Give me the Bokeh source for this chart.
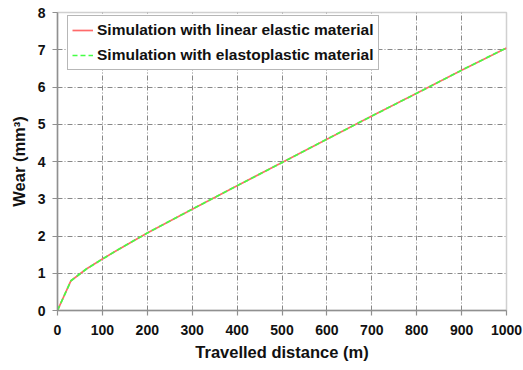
from bokeh.plotting import figure
from bokeh.models import Range1d, FixedTicker, Legend, LegendItem
from bokeh.embed import file_html
from bokeh.resources import INLINE

distance = [0, 30, 65, 100, 130, 200, 300, 400, 500, 600, 700, 800, 900, 1000]
wear_elastic = [0, 0.80, 1.12, 1.38, 1.60, 2.08, 2.72, 3.35, 3.97, 4.60, 5.22, 5.83, 6.45, 7.05]
wear_elastoplastic = [0, 0.80, 1.12, 1.38, 1.60, 2.08, 2.72, 3.35, 3.97, 4.60, 5.22, 5.83, 6.45, 7.05]
x_ticks = [0, 100, 200, 300, 400, 500, 600, 700, 800, 900, 1000]
y_ticks = [0, 1, 2, 3, 4, 5, 6, 7, 8]

FONT = "Liberation Sans"

p = figure(width=523, height=370, output_backend="svg", toolbar_location=None,
           x_range=Range1d(0, 1000), y_range=Range1d(0, 8),
           min_border_left=57, min_border_right=17, min_border_top=12, min_border_bottom=60)

p.outline_line_color = "#d0d0d0"
p.outline_line_width = 1.5

r1 = p.line(distance, wear_elastic, line_color="#ff6a6a", line_width=1.7)
r2 = p.line(distance, wear_elastoplastic, line_color="#44ff44", line_width=1.7, line_dash="5 3")

for ax in (p.xaxis[0], p.yaxis[0]):
    ax.axis_line_color = "#909090"
    ax.axis_line_width = 1.5
    ax.major_tick_line_color = "#909090"
    ax.major_tick_line_width = 1.2
    ax.major_tick_out = 5
    ax.major_tick_in = 0
    ax.minor_tick_line_color = None
    ax.major_label_text_font = FONT
    ax.major_label_text_font_style = "bold"
    ax.major_label_text_font_size = "14px"
    ax.major_label_text_color = "#111111"
    ax.axis_label_text_font = FONT
    ax.axis_label_text_font_style = "bold"
    ax.axis_label_text_font_size = "16.5px"
    ax.axis_label_text_color = "#111111"

p.xaxis.ticker = FixedTicker(ticks=x_ticks)
p.yaxis.ticker = FixedTicker(ticks=y_ticks)
p.xaxis.axis_label = "Travelled distance (m)"
p.yaxis.axis_label = "Wear (mm³)"
p.xaxis.major_label_standoff = 9
p.yaxis.major_label_standoff = 7
p.xaxis.axis_label_standoff = 5
p.yaxis.axis_label_standoff = 7

for g in (p.xgrid[0], p.ygrid[0]):
    g.grid_line_color = "#888888"
    g.grid_line_width = 1
    g.grid_line_dash = "5 2 1 2"

legend = Legend(items=[
    LegendItem(label="Simulation with linear elastic material", renderers=[r1]),
    LegendItem(label="Simulation with elastoplastic material", renderers=[r2]),
], location=(10, 240))
legend.label_text_font = FONT
legend.label_text_font_style = "bold"
legend.label_text_font_size = "15.5px"
legend.label_text_color = "#111111"
legend.border_line_color = "#707070"
legend.border_line_width = 1
legend.background_fill_color = "white"
legend.background_fill_alpha = 1
legend.margin = 0
legend.padding = 4
legend.spacing = 5
legend.glyph_width = 21
legend.glyph_height = 20
legend.label_height = 20
legend.label_standoff = 4
p.add_layout(legend)

open("out.html", "w").write(file_html(p, INLINE))
